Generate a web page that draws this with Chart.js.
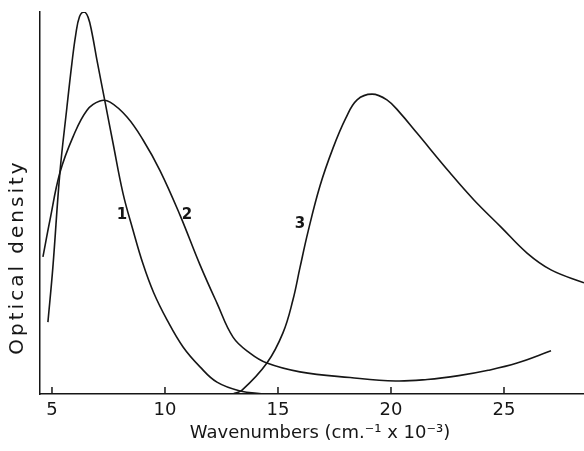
<!DOCTYPE html>
<html>
<head>
<meta charset="utf-8">
<script src="https://cdn.jsdelivr.net/npm/chart.js@4.4.0/dist/chart.umd.min.js"></script>
<style>
  html, body { margin: 0; padding: 0; background: #fff; }
</style>
</head>
<body>
<canvas id="chart" width="584" height="451"></canvas>
<script>
// curve 1
const curve1X = [4.82, 5.04, 5.35, 5.66, 5.88, 6.05, 6.22, 6.42, 6.60, 6.77, 6.99, 7.35, 7.70, 8.14, 8.58, 9.03, 9.50, 10.09, 10.80, 11.55, 12.30, 13.32, 14.34];
const curve1Y = [18.8, 33.2, 57.9, 75.0, 86.5, 94.0, 98.8, 100, 98.6, 94.5, 87.4, 76.4, 65.7, 52.6, 43.0, 34.0, 26.5, 19.4, 12.3, 7.1, 3.1, 0.8, 0];

// curve 2
const curve2X = [4.60, 4.91, 5.35, 5.93, 6.55, 7.12, 7.57, 8.32, 9.03, 9.78, 10.66, 11.55, 12.30, 13.01, 13.76, 14.51, 15.97, 18.19, 20.20, 21.60, 23.00, 24.30, 25.58, 27.08];
const curve2Y = [35.9, 45.5, 57.9, 67.3, 74.3, 76.7, 76.4, 72.5, 66.5, 58.5, 46.9, 33.8, 23.8, 14.9, 10.7, 8.1, 5.8, 4.3, 3.4, 3.8, 4.8, 6.2, 8.1, 11.3];

// curve 3
const curve3X = [13.01, 13.41, 14.51, 15.22, 15.66, 15.97, 16.33, 16.86, 17.43, 18.00, 18.50, 19.16, 19.82, 20.40, 21.15, 22.61, 23.67, 24.87, 26.02, 27.08, 28.54];
const curve3Y = [0, 1.0, 8.1, 16.0, 24.6, 33.0, 42.5, 54.5, 64.3, 72.2, 77.0, 78.5, 77.0, 73.6, 68.3, 57.9, 50.8, 43.7, 36.9, 32.5, 29.1];

// axis ticks and curve numbers
const xTicks = [5, 10, 15, 20, 25];
const curveLabels = ['1', '2', '3'];
const curveLabelX = [8.10, 10.97, 15.97];
const curveLabelY = [46.9, 46.9, 44.5];

const ink = '#161616';
const fontFamily = '"DejaVu Sans", sans-serif';

function toPoints(xs, ys) {
  return xs.map((x, i) => ({ x: x, y: ys[i] }));
}

function curve(xs, ys) {
  return {
    data: toPoints(xs, ys),
    borderColor: ink,
    borderWidth: 1.6,
    pointRadius: 0,
    fill: false,
    tension: 0.4
  };
}

// tick marks pointing inward, curve numbers and axis titles
const extras = {
  id: 'extras',
  afterDraw(chart) {
    const { ctx, scales: { x, y } } = chart;
    ctx.save();
    ctx.strokeStyle = ink;
    ctx.lineWidth = 1.5;
    xTicks.forEach(v => {
      const px = x.getPixelForValue(v);
      ctx.beginPath();
      ctx.moveTo(px, y.bottom);
      ctx.lineTo(px, y.bottom - 7);
      ctx.stroke();
    });

    ctx.fillStyle = ink;
    ctx.font = 'bold 15px ' + fontFamily;
    ctx.textAlign = 'center';
    ctx.textBaseline = 'middle';
    curveLabels.forEach((t, i) => {
      ctx.fillText(t, x.getPixelForValue(curveLabelX[i]), y.getPixelForValue(curveLabelY[i]));
    });

    ctx.font = '18px ' + fontFamily;
    ctx.fillText('Wavenumbers (cm.\u207B\u00B9 x 10\u207B\u00B3)', 320, 433);

    ctx.translate(18, 257);
    ctx.rotate(-Math.PI / 2);
    ctx.font = '20px ' + fontFamily;
    ctx.letterSpacing = '3px';
    ctx.fillText('Optical density', 0, 0);
    ctx.restore();
  }
};

new Chart(document.getElementById('chart').getContext('2d'), {
  type: 'line',
  data: {
    datasets: [
      curve(curve1X, curve1Y),
      curve(curve2X, curve2Y),
      curve(curve3X, curve3Y)
    ]
  },
  options: {
    responsive: false,
    animation: false,
    layout: { padding: { top: 12, right: 0, bottom: 0, left: 0 } },
    plugins: {
      legend: { display: false },
      tooltip: { enabled: false }
    },
    scales: {
      x: {
        type: 'linear',
        min: 4.47,
        max: 28.54,
        afterBuildTicks: s => { s.ticks = xTicks.map(v => ({ value: v })); },
        afterFit: s => { s.height = 57; },
        grid: { display: false, drawTicks: false },
        border: { display: true, color: ink, width: 1.5 },
        ticks: {
          color: ink,
          padding: 6,
          maxRotation: 0,
          font: { size: 18, family: fontFamily }
        }
      },
      y: {
        type: 'linear',
        min: 0,
        max: 100,
        afterFit: s => { s.width = 40; },
        grid: { display: false, drawTicks: false },
        border: { display: true, color: ink, width: 1.5 },
        ticks: { display: false }
      }
    }
  },
  plugins: [extras]
});
</script>
</body>
</html>
